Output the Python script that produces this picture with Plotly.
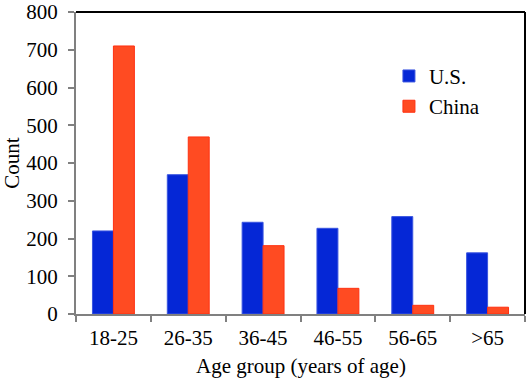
import plotly.graph_objects as go

categories = ["18-25", "26-35", "36-45", "46-55", "56-65", ">65"]
us_counts = [220, 369, 243, 227, 258, 162]
china_counts = [710, 469, 181, 68, 23, 18]
y_ticks = [0, 100, 200, 300, 400, 500, 600, 700, 800]

FONT = "Liberation Serif, Times New Roman, serif"
FS = 21

fig = go.Figure()
fig.add_trace(go.Bar(x=categories, y=us_counts, name="U.S.",
                     marker=dict(color="#0527D6", line=dict(color="#3A55E0", width=1))))
fig.add_trace(go.Bar(x=categories, y=china_counts, name="China",
                     marker=dict(color="#FF4B22", line=dict(color="#FF3010", width=1))))

fig.update_layout(
    width=529, height=380,
    margin=dict(l=76, r=4, t=12, b=66),
    paper_bgcolor="white", plot_bgcolor="white",
    barmode="group", bargap=0.44, bargroupgap=0,
    font=dict(family=FONT, size=FS, color="black"),
    showlegend=True,
    legend=dict(x=0.697, y=0.855, xanchor="left", yanchor="top",
                font=dict(family=FONT, size=FS), bgcolor="rgba(0,0,0,0)",
                itemwidth=30, tracegroupgap=0),
    xaxis=dict(
        automargin=False,
        showline=True, linecolor="#808080", linewidth=2,
        ticks="outside", tickson="boundaries", ticklen=6, tickcolor="#808080", tickwidth=2,
        ticklabelstandoff=4,
        tickfont=dict(family=FONT, size=FS),
        showgrid=False,
    ),
    yaxis=dict(
        automargin=False,
        range=[0, 800], tickvals=y_ticks,
        ticklabeloverflow="allow", ticklabelstandoff=6,
        showline=True, linecolor="#808080", linewidth=2,
        ticks="outside", ticklen=6, tickcolor="#808080", tickwidth=2,
        tickfont=dict(family=FONT, size=FS),
        showgrid=False, zeroline=False,
    ),
    annotations=[
        dict(text="Age group (years of age)", xref="paper", yref="paper",
             x=0.5, y=-0.172, xanchor="center", yanchor="middle", showarrow=False,
             font=dict(family=FONT, size=FS)),
        dict(text="Count", xref="paper", yref="paper",
             x=-0.143, y=0.5, xanchor="center", yanchor="middle", showarrow=False,
             textangle=-90, font=dict(family=FONT, size=FS)),
    ],
    shapes=[
        dict(type="line", xref="paper", yref="paper", x0=0, x1=1, y0=1, y1=1,
             line=dict(color="black", width=2)),
        dict(type="line", xref="paper", yref="paper", x0=1, x1=1, y0=0, y1=1,
             line=dict(color="black", width=2)),
    ],
)

fig.write_html("out.html", config={"displayModeBar": False},
               post_script="document.body.style.margin='0';")
